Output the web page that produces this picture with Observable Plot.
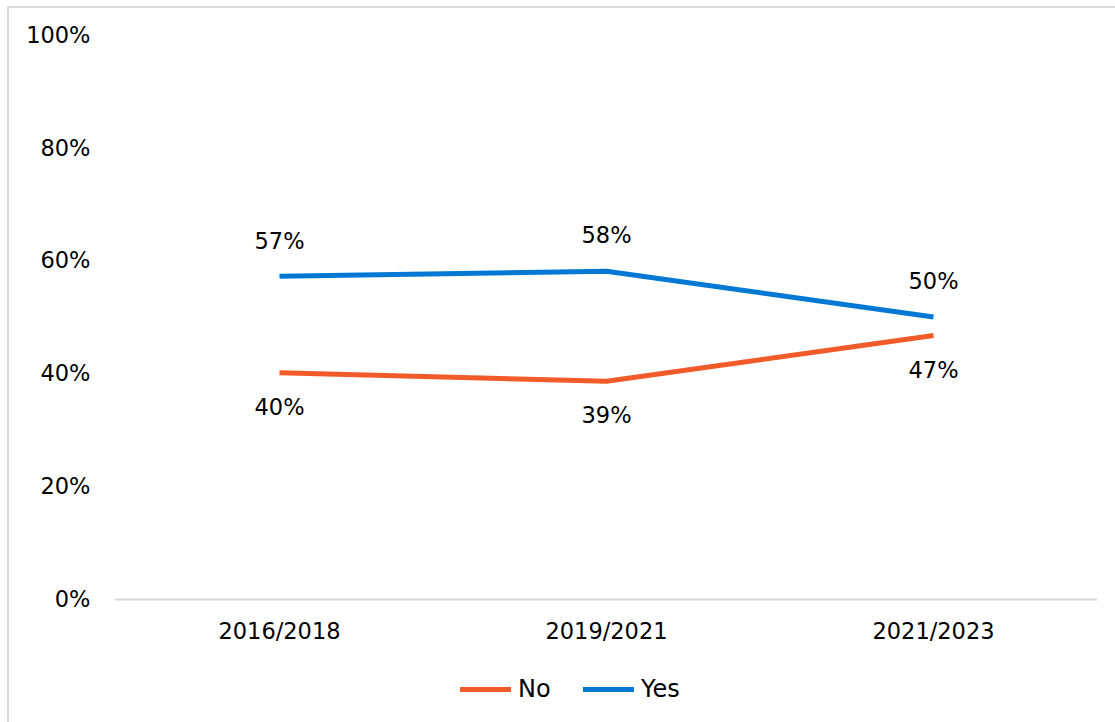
<!DOCTYPE html>
<html>
<head>
<meta charset="utf-8">
<script src="https://cdn.jsdelivr.net/npm/d3@7"></script>
<script src="https://cdn.jsdelivr.net/npm/@observablehq/plot@0.6"></script>
<style>
  html, body { margin: 0; padding: 0; background: #fff; }
  body { width: 1115px; height: 722px; position: relative; overflow: hidden; font-family: "DejaVu Sans", Verdana, sans-serif; }
  #frame { position: absolute; left: 7px; top: 6px; width: 1108px; height: 716px; border-left: 2px solid #d9d9d9; border-top: 2px solid #d9d9d9; box-sizing: border-box; }
  #chart { position: absolute; left: 0; top: 0; }
  #legend { position: absolute; left: 0; top: 672px; width: 1115px; height: 34px; }
  .item { position: absolute; top: 0; height: 34px; display: flex; align-items: center; font-size: 24px; color: #000; }
  .sw { display: inline-block; width: 51px; height: 5px; margin-right: 7px; }
</style>
</head>
<body>
<div id="frame"></div>
<div id="chart"></div>
<div id="legend"></div>
<script>
const periods = ["2016/2018", "2019/2021", "2021/2023"];
const seriesNames = ["No", "Yes"];
const noValues = [0.402, 0.387, 0.468];
const yesValues = [0.573, 0.582, 0.501];
const yTicks = [0, 0.2, 0.4, 0.6, 0.8, 1.0];
const colors = {No: "#F15A29", Yes: "#0078D4"};

const rows = [];
periods.forEach((p, i) => {
  rows.push({period: p, series: "No", value: noValues[i]});
  rows.push({period: p, series: "Yes", value: yesValues[i]});
});
const fmt = d3.format(".0%");

const plot = Plot.plot({
  width: 1115,
  height: 660,
  marginLeft: 115,
  marginRight: 18,
  marginTop: 35,
  marginBottom: 61,
  style: {fontFamily: "'DejaVu Sans', Verdana, sans-serif", fontSize: "22.5px", color: "#000", background: "transparent"},
  x: {type: "point", domain: periods, padding: 0.5, label: null},
  y: {domain: [0, 1], label: null},
  marks: [
    Plot.axisY({ticks: yTicks, tickFormat: d => fmt(d), tickSize: 0, tickPadding: 25, fontSize: 22.5, label: null}),
    Plot.axisX({tickSize: 0, tickPadding: 24, fontSize: 22.5, label: null}),
    Plot.ruleY([0], {stroke: "#d9d9d9", strokeWidth: 2}),
    Plot.line(rows, {x: "period", y: "value", z: "series", stroke: d => colors[d.series], strokeWidth: 5, strokeLinejoin: "round", strokeLinecap: "butt"}),
    Plot.text(rows.filter(d => d.series === "Yes"), {x: "period", y: "value", text: d => fmt(d.value), dy: -35, fontSize: 22.5, fill: "#000"}),
    Plot.text(rows.filter(d => d.series === "No"), {x: "period", y: "value", text: d => fmt(d.value), dy: 35, fontSize: 22.5, fill: "#000"})
  ]
});
document.getElementById("chart").appendChild(plot);

const legend = document.getElementById("legend");
const lefts = {No: 460, Yes: 583};
seriesNames.forEach(s => {
  const it = document.createElement("div");
  it.className = "item";
  it.style.left = lefts[s] + "px";
  const sw = document.createElement("span");
  sw.className = "sw";
  sw.style.background = colors[s];
  it.appendChild(sw);
  it.appendChild(document.createTextNode(s));
  legend.appendChild(it);
});
</script>
</body>
</html>
